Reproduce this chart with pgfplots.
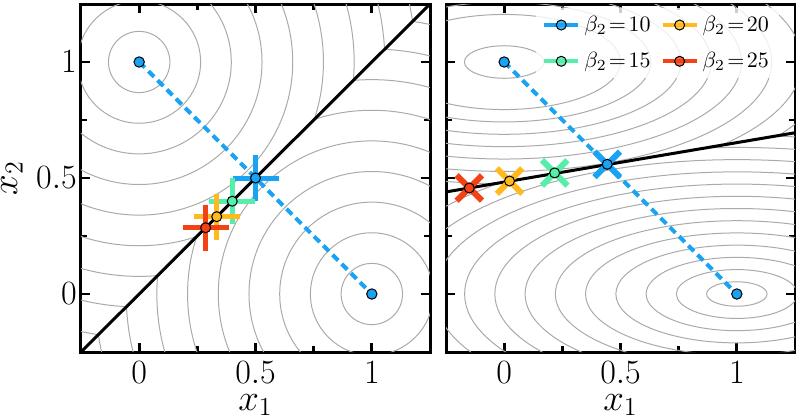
\RequirePackage{fix-cm}
\documentclass[border=0pt]{standalone}
\usepackage{pgfplots}
\pgfplotsset{compat=1.18}
\definecolor{cblue}{RGB}{26,163,242}
\definecolor{cgreen}{RGB}{85,238,170}
\definecolor{cyellow}{RGB}{255,186,30}
\definecolor{cred}{RGB}{242,66,22}
\definecolor{cont}{RGB}{170,170,170}
\tikzset{contourline/.style={cont, line width=0.5pt}}
\pgfplotsset{
  myaxis/.style={
    scale only axis, width=174.5pt, height=174pt,
    xmin=-0.25, xmax=1.25, ymin=-0.25, ymax=1.25,
    xtick={0,0.5,1}, ytick={0,0.5,1},
    minor xtick={0.25,0.75}, minor ytick={0.25,0.75},
    tick align=inside,
    major tick length=4.5pt, minor tick length=3pt,
    tick style={line width=1.4pt, black},
    axis line style={line width=1.5pt},
    tick label style={font=\fontsize{17}{20}\selectfont},
    xticklabel style={inner sep=0.5pt, yshift=-4pt},
    label style={font=\fontsize{18.5}{22}\selectfont},
    xlabel={$x_1$},
    xlabel style={at={(axis description cs:0.5,-0.153)}, anchor=center, inner sep=0pt},
    clip=true,
  },
}
\begin{document}
\begin{tikzpicture}
% ---------------- left panel ----------------
\begin{axis}[myaxis, name=L,
  ylabel={$x_2$},
  ylabel style={at={(axis description cs:-0.198,0.5)}, anchor=center, inner sep=0pt},
  yticklabel style={inner sep=1pt, xshift=-1pt},
]
\begin{scope}
\clip (axis cs:-0.25,-0.25) -- (axis cs:1.25,1.25) -- (axis cs:-0.25,1.25) -- cycle;
\pgfplotsinvokeforeach{0.132,0.264,0.396,0.528,0.66,0.792,0.924,1.056,1.188,1.32,1.452}{
  \draw[contourline] (axis cs:0,1) ellipse [x radius={#1*116.33pt}, y radius={#1*116pt}];
}
\end{scope}
\begin{scope}
\clip (axis cs:-0.25,-0.25) -- (axis cs:1.25,1.25) -- (axis cs:1.25,-0.25) -- cycle;
\pgfplotsinvokeforeach{0.132,0.264,0.396,0.528,0.66,0.792,0.924,1.056,1.188,1.32,1.452}{
  \draw[contourline] (axis cs:1,0) ellipse [x radius={#1*116.33pt}, y radius={#1*116pt}];
}
\end{scope}
% plus markers
\addplot[only marks, mark=+, mark size=11.5pt, mark options={line width=2.5pt, cblue}] coordinates {(0.5,0.5)};
\addplot[only marks, mark=+, mark size=11.5pt, mark options={line width=2.5pt, cgreen}] coordinates {(0.4,0.4)};
\addplot[only marks, mark=+, mark size=11.5pt, mark options={line width=2.5pt, cyellow}] coordinates {(0.3333,0.3333)};
\addplot[only marks, mark=+, mark size=11.5pt, mark options={line width=2.5pt, cred}] coordinates {(0.2857,0.2857)};
% boundary and path
\addplot[black, line width=1.5pt] coordinates {(-0.25,-0.25) (1.25,1.25)};
\addplot[cblue, line width=2pt, dash pattern=on 4pt off 2.5pt] coordinates {(0,1) (1,0)};
% circle markers
\addplot[only marks, mark=*, mark size=2.5pt, mark options={fill=cblue, draw=black, line width=0.5pt}] coordinates {(0.5,0.5)};
\addplot[only marks, mark=*, mark size=2.5pt, mark options={fill=cgreen, draw=black, line width=0.5pt}] coordinates {(0.4,0.4)};
\addplot[only marks, mark=*, mark size=2.5pt, mark options={fill=cyellow, draw=black, line width=0.5pt}] coordinates {(0.3333,0.3333)};
\addplot[only marks, mark=*, mark size=2.5pt, mark options={fill=cred, draw=black, line width=0.5pt}] coordinates {(0.2857,0.2857)};
\addplot[only marks, mark=*, mark size=2.6pt, mark options={fill=cblue, draw=black, line width=0.5pt}] coordinates {(0,1) (1,0)};
\end{axis}
% ---------------- right panel ----------------
\begin{axis}[myaxis, name=R, at={(L.south east)}, anchor=south west, xshift=8pt,
  yticklabels={},
  legend columns=2,
  legend cell align=left,
  legend style={draw=none, fill=white, fill opacity=0.8, text opacity=1, draw opacity=1,
    font=\fontsize{11}{13}\selectfont,
    at={(axis description cs:0.955,0.99)}, anchor=north east,
    row sep=5pt,
    /tikz/every even column/.append style={column sep=3pt}},
]
\addlegendimage{cblue, line width=2pt, mark=*, mark size=2.5pt, mark options={fill=cblue, draw=black, line width=0.5pt}}
\addlegendentry{$\beta_2\!=\!10$}
\addlegendimage{cyellow, line width=2pt, mark=*, mark size=2.5pt, mark options={fill=cyellow, draw=black, line width=0.5pt}}
\addlegendentry{$\beta_2\!=\!20$}
\addlegendimage{cgreen, line width=2pt, mark=*, mark size=2.5pt, mark options={fill=cgreen, draw=black, line width=0.5pt}}
\addlegendentry{$\beta_2\!=\!15$}
\addlegendimage{cred, line width=2pt, mark=*, mark size=2.5pt, mark options={fill=cred, draw=black, line width=0.5pt}}
\addlegendentry{$\beta_2\!=\!25$}
\begin{scope}
\clip (axis cs:-0.25,0.44) -- (axis cs:1.25,0.695) -- (axis cs:1.25,1.25) -- (axis cs:-0.25,1.25) -- cycle;
\pgfplotsinvokeforeach{0.171,0.50,0.63,0.76,0.89,1.02,1.15,1.28,1.41,1.54}{
  \draw[contourline] (axis cs:0,1) ellipse [x radius={#1*116.33pt}, y radius={#1*0.41*116pt}];
}
\end{scope}
\begin{scope}
\clip (axis cs:-0.25,0.44) -- (axis cs:1.25,0.695) -- (axis cs:1.25,-0.25) -- (axis cs:-0.25,-0.25) -- cycle;
\pgfplotsinvokeforeach{0.13,0.26,0.39,0.52,0.65,0.78,0.91,1.04,1.17,1.30,1.43,1.56,1.69,1.82}{
  \draw[contourline] (axis cs:1,0) ellipse [x radius={#1*116.33pt}, y radius={#1*0.405*116pt}];
}
\end{scope}
% x markers
\addplot[only marks, forget plot, mark=x, mark size=9pt, mark options={line width=3pt, cblue}] coordinates {(0.443,0.559)};
\addplot[only marks, forget plot, mark=x, mark size=9pt, mark options={line width=3pt, cgreen}] coordinates {(0.217,0.522)};
\addplot[only marks, forget plot, mark=x, mark size=9pt, mark options={line width=3pt, cyellow}] coordinates {(0.023,0.487)};
\addplot[only marks, forget plot, mark=x, mark size=9pt, mark options={line width=3pt, cred}] coordinates {(-0.15,0.457)};
% boundary and path
\addplot[forget plot, black, line width=1.5pt] coordinates {(-0.25,0.44) (1.25,0.695)};
\addplot[forget plot, cblue, line width=2pt, dash pattern=on 4pt off 2.5pt] coordinates {(0,1) (1,0)};
% circle markers
\addplot[forget plot, only marks, mark=*, mark size=2.5pt, mark options={fill=cblue, draw=black, line width=0.5pt}] coordinates {(0.443,0.559)};
\addplot[forget plot, only marks, mark=*, mark size=2.5pt, mark options={fill=cgreen, draw=black, line width=0.5pt}] coordinates {(0.217,0.522)};
\addplot[forget plot, only marks, mark=*, mark size=2.5pt, mark options={fill=cyellow, draw=black, line width=0.5pt}] coordinates {(0.023,0.487)};
\addplot[forget plot, only marks, mark=*, mark size=2.5pt, mark options={fill=cred, draw=black, line width=0.5pt}] coordinates {(-0.15,0.457)};
\addplot[forget plot, only marks, mark=*, mark size=2.6pt, mark options={fill=cblue, draw=black, line width=0.5pt}] coordinates {(0,1) (1,0)};
\end{axis}
\pgfresetboundingbox
\path[use as bounding box] ([shift={(-40.5pt,-33.5pt)}]L.south west) rectangle ([shift={(357.5pt,176pt)}]L.south west);
\end{tikzpicture}
\end{document}
